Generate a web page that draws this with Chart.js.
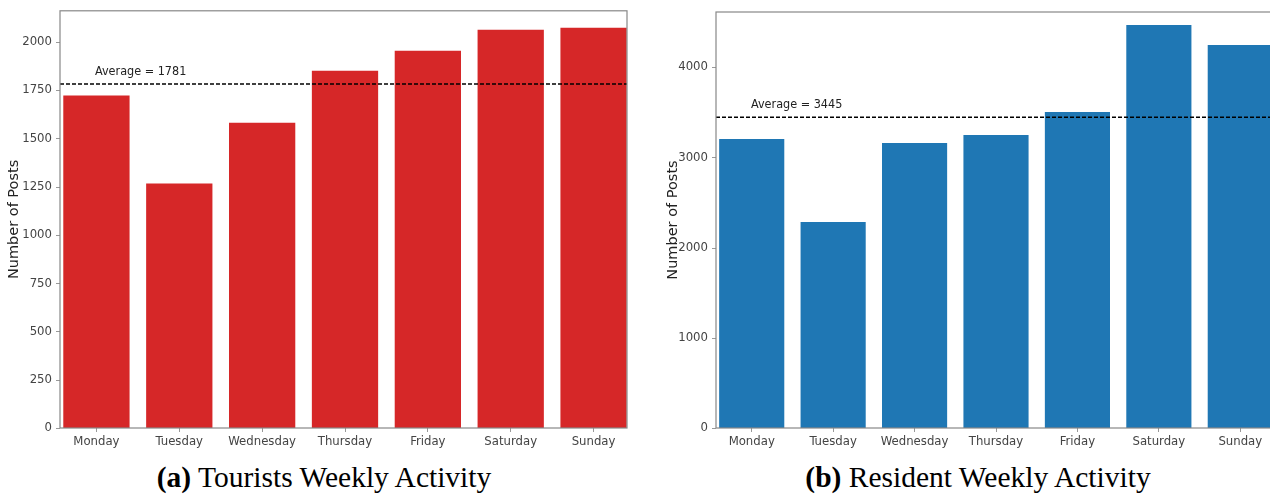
<!DOCTYPE html>
<html>
<head>
<meta charset="utf-8">
<script src="https://cdn.jsdelivr.net/npm/chart.js@4"></script>
<style>
  body { margin: 0; background: #fff; width: 1270px; height: 494px; overflow: hidden; position: relative; }
  .panel { position: absolute; top: 0; height: 450px; }
  .caption { position: absolute; top: 461px; font-family: "Liberation Serif", "Times New Roman", serif; font-size: 29.5px; color: #000; text-align: center; white-space: nowrap; }
  .caption b { font-weight: bold; }
</style>
</head>
<body>
<div class="panel" style="left:0;width:635px"><canvas id="touristChart"></canvas></div>
<div class="panel" style="left:656px;width:625px"><canvas id="residentChart"></canvas></div>
<div class="caption" style="left:0;width:648px"><b>(a)</b> Tourists Weekly Activity</div>
<div class="caption" style="left:656px;width:644px"><b>(b)</b> Resident Weekly Activity</div>

<script>
// weekday categories
const days = ['Monday', 'Tuesday', 'Wednesday', 'Thursday', 'Friday', 'Saturday', 'Sunday'];

// posts per day
const touristPosts = [1721, 1266, 1581, 1850, 1953, 2062, 2072];
const residentPosts = [3202, 2283, 3158, 3247, 3501, 4465, 4244];

const touristAverage = 1781;
const residentAverage = 3445;

const touristTicks = [0, 250, 500, 750, 1000, 1250, 1500, 1750, 2000];
const residentTicks = [0, 1000, 2000, 3000, 4000];

const tickFont = { family: "'DejaVu Sans Condensed', 'DejaVu Sans', sans-serif", size: 13 };

// spines, y tick marks, average line + label
const frameAndAverage = {
  id: 'frameAndAverage',
  afterDatasetsDraw(chart, args, opts) {
    const { ctx, chartArea: a } = chart;
    const yScale = chart.scales.y;
    const left = a.left + opts.inset[0];
    const right = a.right - opts.inset[1];
    const y = yScale.getPixelForValue(opts.value);
    ctx.save();
    ctx.strokeStyle = '#000';
    ctx.lineWidth = 1.5;
    ctx.setLineDash([4, 2]);
    ctx.beginPath();
    ctx.moveTo(left, y);
    ctx.lineTo(right, y);
    ctx.stroke();
    ctx.setLineDash([]);
    ctx.fillStyle = '#222';
    ctx.font = "12.5px 'DejaVu Sans Condensed', 'DejaVu Sans', sans-serif";
    ctx.textBaseline = 'alphabetic';
    ctx.fillText('Average = ' + opts.value, left + 35, y - 9);

    ctx.strokeStyle = '#999';
    ctx.lineWidth = 1;
    ctx.beginPath();
    yScale.ticks.forEach(t => {
      const ty = Math.round(yScale.getPixelForValue(t.value)) + 0.5;
      ctx.moveTo(left - 4, ty);
      ctx.lineTo(left, ty);
    });
    ctx.stroke();

    ctx.strokeStyle = '#888';
    ctx.lineWidth = 1.2;
    ctx.strokeRect(left, a.top, right - left, a.bottom - a.top);
    ctx.restore();
  }
};

function makeChart(id, values, color, avg, ticks, yMax, pad, inset) {
  const ctx = document.getElementById(id).getContext('2d');
  return new Chart(ctx, {
    type: 'bar',
    data: {
      labels: days,
      datasets: [{
        data: values,
        backgroundColor: color,
        categoryPercentage: 1,
        barPercentage: 0.8
      }]
    },
    options: {
      responsive: false,
      animation: false,
      layout: { padding: pad },
      plugins: {
        legend: { display: false },
        tooltip: { enabled: false },
        frameAndAverage: { value: avg, inset: inset }
      },
      scales: {
        x: {
          offset: true,
          grid: { display: true, offset: false, drawOnChartArea: false, tickLength: 4, color: '#999' },
          border: { display: false },
          ticks: { color: '#444', font: tickFont, padding: 2, maxRotation: 0 },
          afterFit: (s) => { s.height = 22; }
        },
        y: {
          min: 0,
          max: yMax,
          afterBuildTicks: (s) => { s.ticks = ticks.map(v => ({ value: v })); },
          grid: { display: false, drawTicks: false, tickLength: 0 },
          border: { display: false },
          ticks: { color: '#444', font: tickFont, padding: 3, callback: (v) => String(v) },
          title: {
            display: true,
            text: 'Number of Posts',
            color: '#222',
            font: { family: "'DejaVu Sans', sans-serif", size: 14.5 },
            padding: { top: 0, bottom: 0 }
          },
          afterFit: (s) => { s.width = 55 - pad.left; }
        }
      }
    },
    plugins: [frameAndAverage]
  });
}

const c1 = document.getElementById('touristChart');
c1.width = 635; c1.height = 450;
const c2 = document.getElementById('residentChart');
c2.width = 625; c2.height = 450;

makeChart('touristChart', touristPosts, '#d62728', touristAverage, touristTicks, 2160,
  { top: 10, right: 0, left: 6, bottom: 0 }, [5, 8]);
makeChart('residentChart', residentPosts, '#1f77b4', residentAverage, residentTicks, 4610,
  { top: 12, right: 0, left: 9, bottom: 0 }, [5, 0]);
</script>
</body>
</html>
